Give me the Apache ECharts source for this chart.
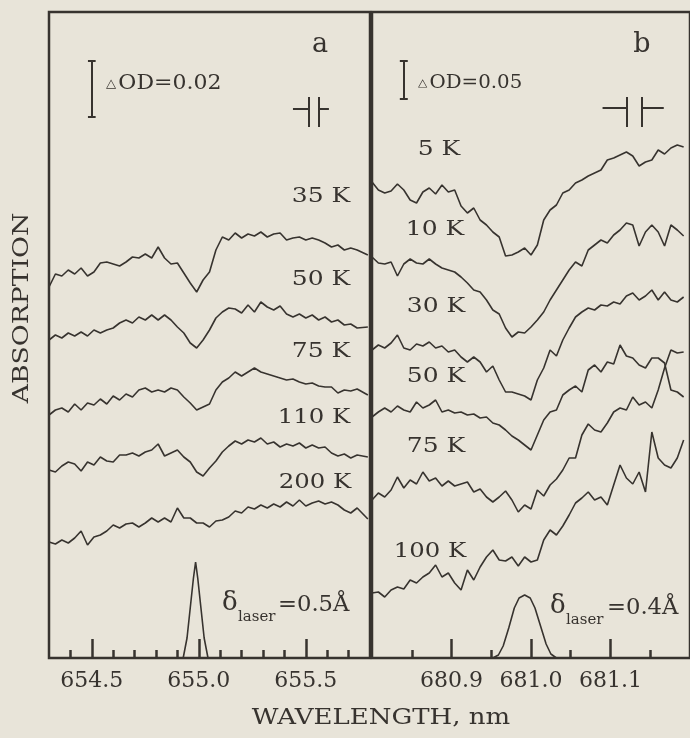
<!DOCTYPE html>
<html><head><meta charset="utf-8">
<script src="https://cdn.jsdelivr.net/npm/echarts@6/dist/echarts.min.js"></script>
<style>html,body{margin:0;padding:0;background:#e8e4d9}#c{width:690px;height:738px}</style>
</head><body><div id="c"></div>
<script>
// ---------- panel a : 654.3 - 655.8 nm (absorption, arbitrary units, stacked) ----------
const waveA = [654.30,654.33,654.36,654.39,654.42,654.45,654.48,654.51,654.54,654.57,
  654.60,654.63,654.66,654.69,654.72,654.75,654.78,654.81,654.84,654.87,
  654.90,654.93,654.96,654.99,655.02,655.05,655.08,655.11,655.14,655.17,
  655.20,655.23,655.26,655.29,655.32,655.35,655.38,655.41,655.44,655.47,
  655.50,655.53,655.56,655.59,655.62,655.65,655.68,655.71,655.74,655.79];
const a35K = [371,384,382,388,384,390,382,386,395,396,394,392,396,401,400,404,400,411,400,394,
  395,385,375,366,378,386,408,421,418,425,420,424,422,426,421,424,425,418,420,421,
  418,420,418,415,411,413,408,410,408,403];
const a50K = [318,323,320,325,322,326,322,328,325,328,330,335,338,335,341,338,343,338,343,338,
  331,325,315,310,318,328,340,346,350,349,345,353,346,356,351,348,352,344,341,344,
  340,343,338,341,336,338,333,334,330,331];
const a75K = [243,248,250,246,254,248,255,253,259,254,262,258,264,261,268,270,266,268,266,270,
  268,261,255,248,251,254,268,276,280,286,282,286,290,286,284,282,280,278,279,276,
  274,275,272,271,271,265,268,267,269,263];
const a110K = [188,186,192,196,194,187,196,193,201,197,196,203,203,205,202,206,208,214,202,205,
  208,201,196,186,182,190,197,206,212,217,214,218,216,220,214,216,211,214,212,215,
  210,213,210,211,205,202,204,200,203,201];
const a200K = [116,114,118,115,120,127,113,121,123,127,133,130,134,135,131,135,140,136,140,136,
  150,140,140,135,135,131,137,138,141,147,145,151,149,153,150,154,151,156,152,158,
  152,155,157,154,156,153,148,145,150,139];
const laserAx = [654.927,654.945,654.960,654.975,654.985,654.995,655.010,655.025,655.043];
const laserAy = [0,20,50,80,96,80,50,20,0];
const majorA = [654.5,655.0,655.5];
const minorA = [654.4,654.6,654.7,654.8,654.9,655.1,655.2,655.3,655.4,655.6,655.7];

// ---------- panel b : 680.8 - 681.2 nm ----------
const waveB = [680.800,680.808,680.816,680.824,680.832,680.840,680.848,680.856,680.864,680.872,
  680.880,680.888,680.896,680.904,680.912,680.920,680.928,680.936,680.944,680.952,
  680.960,680.968,680.976,680.984,680.992,681.000,681.008,681.016,681.024,681.032,
  681.040,681.048,681.056,681.064,681.072,681.080,681.088,681.096,681.104,681.112,
  681.120,681.128,681.136,681.144,681.152,681.160,681.168,681.176,681.184,681.192];
const b5K = [476,468,465,467,474,468,458,455,466,470,464,473,466,468,452,445,450,438,433,426,
  421,402,403,406,410,403,413,438,448,453,465,468,475,478,482,485,488,498,500,503,
  506,502,492,496,498,508,504,510,513,511];
const b10K = [401,395,394,396,382,394,399,395,394,399,394,390,388,386,381,375,368,366,358,348,
  344,330,321,326,325,331,338,346,358,368,378,388,396,392,408,413,418,415,423,428,
  435,433,412,426,433,426,412,433,428,422];
const b30K = [308,313,310,315,323,310,308,314,312,316,310,312,306,308,301,296,301,296,286,292,
  278,266,266,264,262,258,278,290,308,302,318,330,341,346,350,348,353,352,356,354,
  362,365,358,362,368,358,366,358,356,361];
const b50K = [241,246,250,246,252,248,246,256,250,253,258,246,248,245,246,243,244,240,241,235,
  233,228,222,218,213,208,223,238,246,248,263,268,272,266,288,293,286,296,294,313,
  302,300,293,290,300,300,295,268,266,261];
const b75K = [158,165,161,168,181,170,178,174,186,177,180,172,177,172,174,176,166,169,161,156,
  161,167,158,146,153,149,168,162,173,179,188,200,200,223,234,228,226,235,246,250,
  248,261,253,256,250,268,290,308,305,306];
const b100K = [65,66,61,68,71,69,78,75,81,85,93,81,85,75,68,88,78,91,101,108,
  98,97,101,92,101,96,98,118,128,123,132,143,155,160,166,158,161,153,173,193,
  180,174,186,166,226,200,193,190,200,218];
const laserBx = [680.952,680.959,680.965,680.972,680.979,680.985,680.992,680.999,681.005,681.012,681.019,681.025,681.032];
const laserBy = [0,3,12,30,50,60,63,60,50,32,14,4,0];
const majorB = [680.9,681.0,681.1];
const minorB = [680.85,680.95,681.05,681.15];

// scale bars (ΔOD) and slit symbols, in data units
const barA = {x:654.5, y0:541, y1:597, cap:0.018};
const barB = {x:680.84, y0:559, y1:597, cap:0.005};
const slitA = {x0:655.44, x1:655.515, x2:655.562, x3:655.608, y:549, ya:531, yb:561};
const slitB = {x0:681.090, x1:681.120, x2:681.139, x3:681.167, y:550, ya:531, yb:561};

const ink = '#37332f';
const serif = 'DejaVu Serif';
const pair = (xs, ys) => xs.map((x, i) => [x, ys[i]]);
const seg = (x0,y0,x1,y1) => [{coord:[x0,y0]},{coord:[x1,y1]}];

function curve(name, xs, ys, gi) {
  return {name, type:'line', xAxisIndex: gi*2, yAxisIndex: gi, data: pair(xs, ys),
    showSymbol:false, symbol:'none', animation:false, silent:true,
    lineStyle:{color: ink, width:1.6}};
}
function marks(bar, slit) {
  return {symbol:'none', silent:true, animation:false, label:{show:false},
    lineStyle:{color:ink, width:2, type:'solid'},
    data:[
      seg(bar.x, bar.y0, bar.x, bar.y1),
      seg(bar.x-bar.cap, bar.y0, bar.x+bar.cap, bar.y0),
      seg(bar.x-bar.cap, bar.y1, bar.x+bar.cap, bar.y1),
      seg(slit.x0, slit.y, slit.x1, slit.y),
      seg(slit.x1, slit.ya, slit.x1, slit.yb),
      seg(slit.x2, slit.ya, slit.x2, slit.yb),
      seg(slit.x2, slit.y, slit.x3, slit.y)
    ]};
}
function xMajor(gi, min, max, major) {
  return {type:'value', gridIndex:gi, min, max, position:'bottom',
    axisLine:{show:false}, splitLine:{show:false},
    axisTick:{show:true, inside:true, length:19, customValues: major, lineStyle:{color:ink, width:2.5}},
    axisLabel:{show:true, customValues: major, margin:12, color:ink, fontFamily:serif, fontSize:22,
      formatter: v => v.toFixed(1)}};
}
function xMinor(gi, min, max, minor) {
  return {type:'value', gridIndex:gi, min, max, position:'bottom',
    axisLine:{show:false}, splitLine:{show:false}, axisLabel:{show:false},
    axisTick:{show:true, inside:true, length:8, customValues: minor, lineStyle:{color:ink, width:2.5}}};
}
function yAx(gi) {
  return {type:'value', gridIndex:gi, min:0, max:646, show:false};
}
function txt(x, y, text, size, sx, extra) {
  return Object.assign({type:'text', x, y, scaleX: sx || 1, silent:true,
    style:{text, fontSize:size, fontFamily:serif, fill:ink, align:'center', verticalAlign:'middle'}}, extra || {});
}
function ltxt(x, y, text, size, sx) {
  return {type:'text', x, y, scaleX: sx || 1, silent:true,
    style:{text, fontSize:size, fontFamily:serif, fill:ink, align:'left', verticalAlign:'middle'}};
}
function odText(x, y, value, size, sx) {
  return {type:'text', x, y, scaleX: sx, silent:true,
    style:{text:'{t|\u25B3}' + 'OD=' + value, fontSize:size, fontFamily:serif, fill:ink, align:'left', verticalAlign:'middle',
      rich:{t:{fontSize: Math.round(size*0.6), fontFamily:'DejaVu Sans', fill:ink, padding:[0,2,0,0]}}}};
}

const chart = echarts.init(document.getElementById('c'), null, {renderer:'canvas'});
chart.setOption({
  backgroundColor:'#e8e4d9',
  animation:false,
  grid:[
    {left:49, top:12, width:321, height:646, show:true, borderColor:ink, borderWidth:2.5, backgroundColor:'transparent'},
    {left:372, top:12, width:325.2, height:646, show:true, borderColor:ink, borderWidth:2.5, backgroundColor:'transparent'}
  ],
  xAxis:[
    xMajor(0, 654.3, 655.8, majorA), xMinor(0, 654.3, 655.8, minorA),
    xMajor(1, 680.8, 681.2, majorB), xMinor(1, 680.8, 681.2, minorB)
  ],
  yAxis:[yAx(0), yAx(1)],
  series:[
    curve('35 K', waveA, a35K, 0),
    curve('50 K', waveA, a50K, 0),
    curve('75 K', waveA, a75K, 0),
    curve('110 K', waveA, a110K, 0),
    curve('200 K', waveA, a200K, 0),
    Object.assign(curve('laser a', laserAx, laserAy, 0), {markLine: marks(barA, slitA)}),
    curve('5 K', waveB, b5K, 1),
    curve('10 K', waveB, b10K, 1),
    curve('30 K', waveB, b30K, 1),
    curve('50 K b', waveB, b50K, 1),
    curve('75 K b', waveB, b75K, 1),
    curve('100 K', waveB, b100K, 1),
    Object.assign(curve('laser b', laserBx, laserBy, 1), {markLine: marks(barB, slitB)})
  ],
  graphic:[
    txt(320, 45, 'a', 27, 1),
    txt(642, 45, 'b', 27, 1),
    odText(106, 84, '0.02', 20, 1.1),
    odText(418, 83, '0.05', 18, 1.1),
    txt(321, 197, '35 K', 20, 1.25),
    txt(321, 280, '50 K', 20, 1.25),
    txt(321, 352, '75 K', 20, 1.25),
    txt(314, 418, '110 K', 20, 1.22),
    txt(315, 483, '200 K', 20, 1.22),
    txt(439, 150, '5 K', 20, 1.25),
    txt(435, 230, '10 K', 20, 1.25),
    txt(436, 307, '30 K', 20, 1.25),
    txt(436, 377, '50 K', 20, 1.25),
    txt(436, 447, '75 K', 20, 1.25),
    txt(430, 552, '100 K', 20, 1.22),
    ltxt(222, 603, '\u03B4', 26, 1),
    ltxt(238, 617, 'laser', 15, 1),
    ltxt(278, 605, '=0.5\u00C5', 22, 1.03),
    ltxt(550, 606, '\u03B4', 26, 1),
    ltxt(566, 620, 'laser', 15, 1),
    ltxt(607, 608, '=0.4\u00C5', 22, 1.03),
    txt(381, 718, 'WAVELENGTH, nm', 23, 1.13),
    txt(22, 308, 'ABSORPTION', 23, 1.16, {rotation: Math.PI/2})
  ]
});
</script></body></html>
